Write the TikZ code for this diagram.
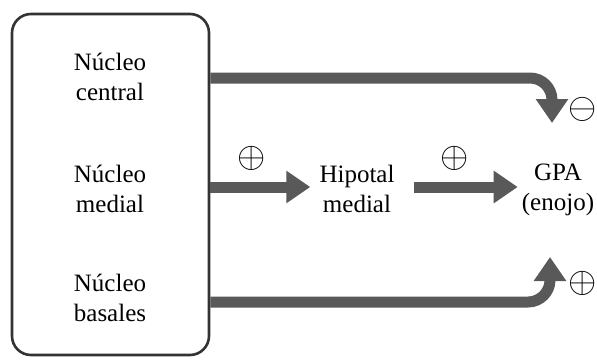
\documentclass[tikz,border=0pt]{standalone}
\usepackage{fontspec}
\setmainfont{Liberation Serif}
\usepackage{graphicx}
\usetikzlibrary{arrows.meta}

\begin{document}
\begin{tikzpicture}[x=1pt,y=-1pt,
           every node/.style={inner sep=2pt,align=center,
             font=\fontsize{25}{29.5}\selectfont},
           bigarrow/.style={line width=11pt,draw=black!65,
             -{Triangle[width=31pt,length=24pt]}},
           sign/.style={inner sep=0pt,font=\fontsize{20}{20}\selectfont}]
           \useasboundingbox(0,0)rectangle(597,359);
           \node[draw=black!80,line width=2.6pt,rounded corners=19pt,
             minimum width=197pt,minimum height=341pt](box)at(110.5,184.5){};
           \node(cen)at(110,77){Núcleo\\central};
           \node(med)at(110,189){Núcleo\\medial};
           \node(bas)at(110,298){Núcleo\\basales};
           \node[inner sep=9pt](hip)at(357,189){Hipotal\\medial};
           \node[inner sep=4pt](gpa)at(558,190){GPA\\(enojo)};
           \coordinate(tipA)at(552,123);
           \coordinate(tipB)at(550,257);
           % senales
           \node[sign](sa)at(583,109){\scalebox{1.75}{$\ominus$}};
           \node[sign](sb)at(252,158){\scalebox{1.75}{$\oplus$}};
           \node[sign](sc)at(455,158){\scalebox{1.75}{$\oplus$}};
           \node[sign](sd)at(583,283){\scalebox{1.75}{$\oplus$}};
           % flechas
           \draw[bigarrow,rounded corners=22pt](box.east|-0,78)-|(tipA);
           \draw[bigarrow,rounded corners=22pt](box.east|-0,302)-|(tipB);
           \draw[bigarrow](box.east|-0,187)--(hip.west|-0,187);
           \draw[bigarrow,shorten <=10pt](hip.east|-0,187)--(gpa.west|-0,187);
         \end{tikzpicture}
\end{document}
